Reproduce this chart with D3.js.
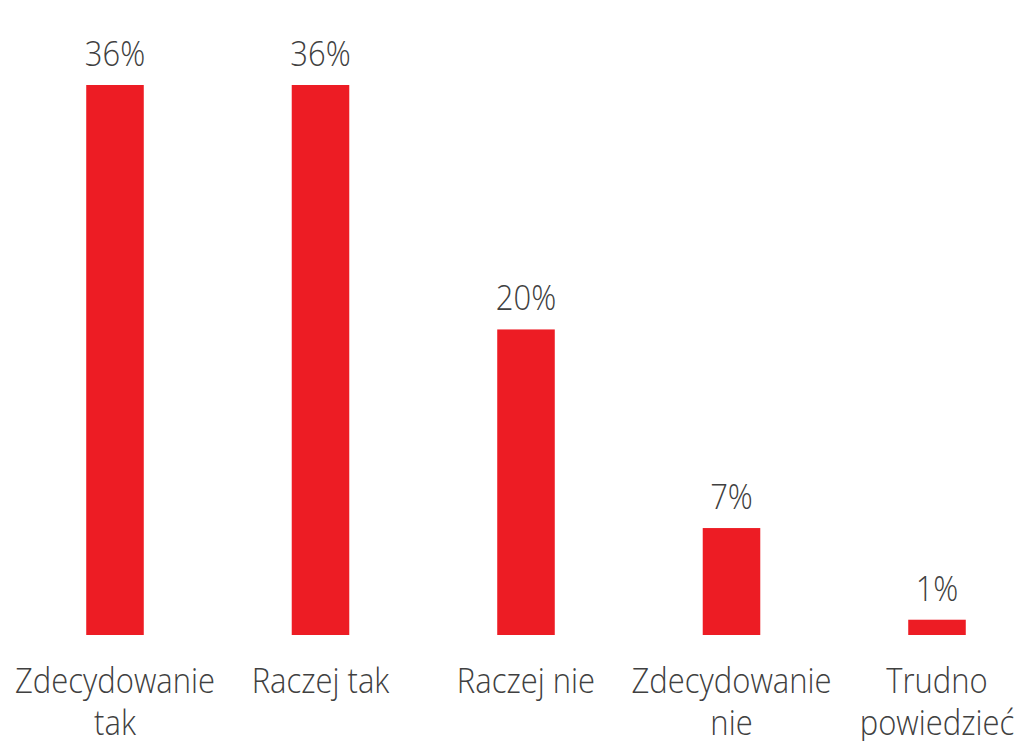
<!DOCTYPE html>
<html><head><meta charset="utf-8">
<script src="https://cdn.jsdelivr.net/npm/d3@7"></script>
<style>body{margin:0;background:#fff}svg{display:block}text{font-family:"Segoe UI","Open Sans","Noto Sans",sans-serif;fill:#404040;font-weight:350}</style>
</head><body><svg id="c" width="1020" height="741"></svg>
<script>
const categories = ["Zdecydowanie tak","Raczej tak","Raczej nie","Zdecydowanie nie","Trudno powiedzieć"];
const values = [36, 36, 20, 7, 1];
const valueLabels = ["36%","36%","20%","7%","1%"];

const svg = d3.select("#c");
const x = d3.scaleBand().domain(categories).range([12.25, 1039.75]).paddingInner(0.72).paddingOuter(0.36);
const y = d3.scaleLinear().domain([0, 36]).range([635, 85]);
const sy = 1.1;

svg.selectAll("rect.bar").data(values).join("rect")
  .attr("class","bar")
  .attr("x",(d,i)=>x(categories[i]))
  .attr("width",x.bandwidth())
  .attr("y",d=>y(d))
  .attr("height",d=>y(0)-y(d))
  .attr("fill","#ED1C24");

svg.selectAll("text.val").data(values).join("text")
  .attr("class","val")
  .attr("transform",(d,i)=>`translate(${x(categories[i])+x.bandwidth()/2},${y(d)-19}) scale(1,${sy})`)
  .attr("text-anchor","middle")
  .style("font-size","31px")
  .text((d,i)=>valueLabels[i]);

const maxW = x.step()+6;
categories.forEach((c,i)=>{
  const t = svg.append("text").attr("text-anchor","middle").style("font-size","31px")
    .attr("transform",`translate(${x(c)+x.bandwidth()/2},693) scale(1,${sy})`);
  const words = c.split(" ");
  let line = [];
  let ts = t.append("tspan").attr("x", 0).attr("dy",0);
  words.forEach(w=>{
    line.push(w);
    ts.text(line.join(" "));
    if (ts.node().getComputedTextLength() > maxW && line.length>1){
      line.pop(); ts.text(line.join(" "));
      line=[w];
      ts = t.append("tspan").attr("x", 0).attr("dy",42/sy).text(w);
    }
  });
});
</script></body></html>
